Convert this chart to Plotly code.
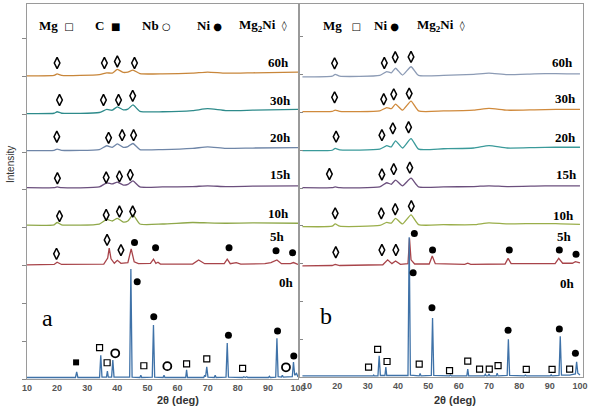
import plotly.graph_objects as go

W, H = 597, 409

# ---------------- data: panel a ----------------
A_MILL_X = [10, 19, 20, 21.5, 34, 36.5, 38.3, 40, 42, 43.5, 45.2, 47.5, 55, 65, 70, 76, 85, 100]
A60_Y = [8.02, 8.03, 8.07, 8.03, 8.05, 8.10, 8.09, 8.19, 8.11, 8.12, 8.17, 8.08, 8.07, 8.09, 8.12, 8.09, 8.10, 8.12]
A30_Y = [7.02, 7.03, 7.07, 7.03, 7.05, 7.13, 7.11, 7.20, 7.12, 7.14, 7.25, 7.08, 7.07, 7.10, 7.15, 7.10, 7.11, 7.13]
A20_Y = [6.04, 6.05, 6.08, 6.05, 6.07, 6.17, 6.13, 6.22, 6.13, 6.15, 6.23, 6.07, 6.07, 6.10, 6.14, 6.10, 6.11, 6.12]
A15_Y = [5.06, 5.06, 5.08, 5.06, 5.08, 5.19, 5.16, 5.21, 5.13, 5.15, 5.24, 5.08, 5.08, 5.09, 5.11, 5.09, 5.10, 5.11]
A10_Y = [4.07, 4.08, 4.14, 4.08, 4.10, 4.22, 4.18, 4.25, 4.15, 4.18, 4.34, 4.10, 4.10, 4.14, 4.13, 4.12, 4.13, 4.12]

A5_X = [10, 19, 20, 21.5, 35.5, 36.8, 37.3, 37.9, 39, 40, 41.2, 43.5, 44.6, 45.6, 47, 51, 52, 52.8, 53.5, 54.3,
        65, 67, 69, 72.5, 75.5, 76.5, 77.5, 79.5, 81, 89, 91, 93, 94.5, 97.5, 98.5, 100]
A5_Y = [3.02, 3.03, 3.09, 3.03, 3.04, 3.20, 3.46, 3.18, 3.06, 3.14, 3.06, 3.08, 3.44, 3.10, 3.05, 3.06, 3.17, 3.06, 3.09, 3.04,
        3.04, 3.15, 3.05, 3.06, 3.05, 3.17, 3.05, 3.08, 3.04, 3.05, 3.08, 3.15, 3.05, 3.05, 3.08, 3.03]

A0_X = [10, 26.1, 26.5, 26.9, 34.1, 34.5, 34.9, 36.4, 36.7, 37.0, 38.1, 38.5, 38.9, 44.1, 44.5, 44.9,
        47.5, 47.8, 48.1, 51.6, 52.0, 52.4, 55.2, 55.5, 55.8, 62.7, 63.0, 63.3, 68.7, 69.0, 69.3, 69.7, 70.1,
        72.2, 72.5, 72.8, 76.1, 76.5, 76.9, 81.7, 82.0, 82.5, 83.0, 83.3, 90.2, 90.5, 90.8, 92.6, 93.0, 93.4,
        94.5, 94.8, 95.1, 98.1, 98.5, 98.9, 99.5, 100]
A0_Y = [0.04, 0.04, 0.19, 0.04, 0.04, 0.63, 0.05, 0.05, 0.21, 0.05, 0.05, 0.50, 0.05, 0.05, 2.91, 0.05,
        0.04, 0.10, 0.04, 0.05, 1.43, 0.05, 0.04, 0.10, 0.04, 0.04, 0.24, 0.04, 0.04, 0.10, 0.06, 0.32, 0.05,
        0.04, 0.10, 0.04, 0.05, 0.95, 0.05, 0.04, 0.06, 0.04, 0.06, 0.04, 0.04, 0.07, 0.04, 0.05, 1.08, 0.06,
        0.05, 0.10, 0.05, 0.06, 0.45, 0.10, 0.15, 0.05]

# phase markers, panel a
A_MG2NI_X = [20.0, 35.7, 40.0, 45.7, 20.8, 35.4, 40.4, 45.1, 19.9, 37.1, 41.6, 45.4,
             20.1, 36.3, 40.7, 44.3, 20.8, 36.3, 40.7, 45.1, 19.8, 36.6, 41.2]
A_MG2NI_Y = [8.36, 8.36, 8.40, 8.36, 7.38, 7.38, 7.38, 7.49, 6.41, 6.38, 6.45, 6.45,
             5.31, 5.33, 5.36, 5.40, 4.31, 4.34, 4.43, 4.43, 3.31, 3.68, 3.41]
A_NI_X = [45.7, 52.7, 77.1, 92.7, 98.2, 46.6, 52.1, 76.9, 93.2, 98.6]
A_NI_Y = [3.61, 3.47, 3.47, 3.39, 3.34, 2.57, 1.65, 1.16, 1.27, 0.61]
A_MG_X = [34.1, 36.6, 48.8, 63.0, 69.7, 81.6]
A_MG_Y = [0.83, 0.43, 0.35, 0.40, 0.53, 0.28]
A_C_X = [26.3]
A_C_Y = [0.44]
A_NB_X = [39.3, 56.6, 96.0]
A_NB_Y = [0.68, 0.34, 0.31]

# ---------------- data: panel b ----------------
B_MILL_X = [8.5, 18.3, 19.3, 20.8, 34, 36.3, 37.8, 39.2, 41.5, 44.3, 46.8, 55, 65, 70, 76, 85, 92, 100]
B60_Y = [7.94, 7.96, 8.01, 7.96, 7.98, 8.08, 8.05, 8.17, 7.99, 8.21, 7.98, 7.98, 8.01, 8.04, 8.00, 8.02, 8.03, 8.02]
B30_Y = [7.02, 7.03, 7.06, 7.03, 7.04, 7.13, 7.10, 7.22, 7.06, 7.30, 7.04, 7.04, 7.06, 7.11, 7.06, 7.07, 7.08, 7.08]
B20_Y = [5.99, 6.00, 6.05, 6.01, 6.03, 6.12, 6.09, 6.25, 6.06, 6.31, 6.03, 6.04, 6.06, 6.12, 6.06, 6.07, 6.08, 6.08]
B15_Y = [5.01, 5.01, 5.03, 5.01, 5.03, 5.14, 5.10, 5.21, 5.06, 5.26, 5.03, 5.03, 5.04, 5.06, 5.04, 5.05, 5.06, 5.06]
B10_Y = [3.98, 3.99, 4.05, 3.99, 4.01, 4.09, 4.07, 4.20, 4.05, 4.29, 4.03, 4.03, 4.03, 4.08, 4.05, 4.06, 4.06, 4.04]

B5_X = [8.5, 18.3, 19.3, 20.8, 35, 36.6, 38, 39.2, 40.8, 43.3, 43.8, 44.3, 45.5, 50.3, 51.3, 52.3,
        62, 63, 64, 75.3, 76.3, 77.3, 91.8, 93, 94.3, 97.5, 98.5, 100]
B5_Y = [2.94, 2.95, 2.98, 2.95, 2.97, 3.10, 3.00, 3.07, 2.98, 3.00, 3.67, 3.10, 2.99, 2.99, 3.20, 3.00,
        2.98, 3.01, 2.98, 2.99, 3.14, 3.00, 3.00, 3.14, 3.01, 3.01, 3.05, 3.02]

B0_X = [8.5, 31.8, 32.0, 32.2, 33.4, 33.8, 34.2, 35.7, 36.0, 36.3, 43.3, 43.7, 44.1, 47.0, 47.3, 47.6,
        51.0, 51.4, 51.8, 57.0, 57.3, 57.6, 62.7, 63.0, 63.3, 68.5, 68.8, 69.1, 69.7, 70.0, 70.3,
        72.4, 72.7, 73.0, 76.0, 76.4, 76.8, 81.7, 82.0, 82.3, 90.2, 90.5, 90.8, 93.1, 93.5, 93.9,
        96.7, 97.0, 97.3, 98.5, 98.9, 99.3, 100]
B0_Y = [0.03, 0.03, 0.05, 0.03, 0.03, 0.56, 0.04, 0.04, 0.26, 0.04, 0.04, 3.70, 0.05, 0.03, 0.09, 0.03,
        0.04, 1.56, 0.04, 0.03, 0.05, 0.03, 0.03, 0.21, 0.03, 0.03, 0.07, 0.03, 0.03, 0.08, 0.03,
        0.03, 0.10, 0.03, 0.04, 1.00, 0.04, 0.03, 0.05, 0.03, 0.03, 0.06, 0.03, 0.04, 1.08, 0.05,
        0.05, 0.06, 0.06, 0.08, 0.40, 0.10, 0.05]

B_MG2NI_X = [19.1, 35.5, 39.1, 44.3, 19.1, 35.3, 38.6, 43.7, 19.6, 34.7, 38.3, 43.5,
             17.4, 34.7, 38.6, 43.9, 19.3, 34.5, 39.1, 44.4, 19.5, 34.7, 39.3]
B_MG2NI_Y = [8.30, 8.31, 8.46, 8.47, 7.40, 7.35, 7.48, 7.50, 6.36, 6.40, 6.58, 6.61,
             5.37, 5.36, 5.50, 5.54, 4.33, 4.33, 4.44, 4.52, 3.30, 3.36, 3.36]
B_NI_X = [45.4, 51.4, 76.7, 93.2, 98.7, 45.0, 51.2, 76.3, 93.2, 98.5]
B_NI_Y = [3.80, 3.36, 3.36, 3.36, 3.25, 2.76, 1.83, 1.24, 1.27, 0.63]
B_MG_X = [30.3, 33.3, 36.4, 47.0, 57.0, 63.0, 66.9, 70.1, 73.0, 82.3, 90.8, 96.6]
B_MG_Y = [0.26, 0.73, 0.41, 0.34, 0.17, 0.42, 0.21, 0.21, 0.30, 0.20, 0.20, 0.21]

TIME_LABELS = ["60h", "30h", "20h", "15h", "10h", "5h", "0h"]
X_TICKS = [10, 20, 30, 40, 50, 60, 70, 80, 90, 100]

A_COLORS = ["#c8863a", "#2e8b8b", "#6f86a8", "#6b4f7d", "#8fa84a", "#a8444a", "#3f72a8"]
B_COLORS = ["#8c9bb5", "#d08a3c", "#3a9a9a", "#6b4f7d", "#9aae4a", "#a8444a", "#3f72a8"]


def PX(x):
    return x / W


def PY(y):
    return 1 - y / H


fig = go.Figure()

a_curves = [(A_MILL_X, A60_Y), (A_MILL_X, A30_Y), (A_MILL_X, A20_Y), (A_MILL_X, A15_Y),
            (A_MILL_X, A10_Y), (A5_X, A5_Y), (A0_X, A0_Y)]
b_curves = [(B_MILL_X, B60_Y), (B_MILL_X, B30_Y), (B_MILL_X, B20_Y), (B_MILL_X, B15_Y),
            (B_MILL_X, B10_Y), (B5_X, B5_Y), (B0_X, B0_Y)]

for i, (xs, ys) in enumerate(a_curves):
    fig.add_trace(go.Scatter(x=xs, y=ys, mode="lines", xaxis="x", yaxis="y",
                             line=dict(color=A_COLORS[i], width=1.3,
                                       shape="spline" if i < 5 else "linear", smoothing=0.5),
                             hoverinfo="skip", showlegend=False))
for i, (xs, ys) in enumerate(b_curves):
    fig.add_trace(go.Scatter(x=xs, y=ys, mode="lines", xaxis="x2", yaxis="y2",
                             line=dict(color=B_COLORS[i], width=1.3,
                                       shape="spline" if i < 5 else "linear", smoothing=0.5),
                             hoverinfo="skip", showlegend=False))


def markers(xs, ys, ax, ay, symbol, size, lw=1.5):
    fig.add_trace(go.Scatter(x=xs, y=ys, mode="markers", xaxis=ax, yaxis=ay,
                             marker=dict(symbol=symbol, size=size, color="black",
                                         line=dict(color="black", width=lw)),
                             hoverinfo="skip", showlegend=False))


markers(A_MG2NI_X, A_MG2NI_Y, "x", "y", "diamond-tall-open", 8, 1.5)
markers(A_NI_X, A_NI_Y, "x", "y", "circle", 7, 0)
markers(A_MG_X, A_MG_Y, "x", "y", "square-open", 6, 1.2)
markers(A_C_X, A_C_Y, "x", "y", "square", 6, 0)
markers(A_NB_X, A_NB_Y, "x", "y", "circle-open", 8, 1.8)
markers(B_MG2NI_X, B_MG2NI_Y, "x2", "y2", "diamond-tall-open", 8, 1.5)
markers(B_NI_X, B_NI_Y, "x2", "y2", "circle", 7, 0)
markers(B_MG_X, B_MG_Y, "x2", "y2", "square-open", 6, 1.2)

ann = []
serif = "Liberation Serif"
SYM = "<span style='font-family:DejaVu Sans;font-size:10px'>%s</span>"

# legends (text rows)
a_leg = [("<b>Mg</b>&nbsp;&nbsp;" + SYM % "□", 37), ("<b>C</b>&nbsp;&nbsp;" + SYM % "■", 93),
         ("<b>Nb</b>&nbsp;" + SYM % "○", 140), ("<b>Ni</b>&nbsp;" + SYM % "●", 195),
         ("<b>Mg<sub>2</sub>Ni</b>&nbsp;&nbsp;" + SYM % "◊", 237)]
b_leg = [("<b>Mg</b>&nbsp;&nbsp;&nbsp;" + SYM % "□", 321), ("<b>Ni</b>&nbsp;" + SYM % "●", 372),
         ("<b>Mg<sub>2</sub>Ni</b>&nbsp;&nbsp;" + SYM % "◊", 415)]
for txt, tx in a_leg + b_leg:
    ann.append(dict(x=PX(tx), y=PY(25), xref="paper", yref="paper", text=txt, showarrow=False,
                    xanchor="left", yanchor="middle", font=dict(family=serif, size=13, color="black")))

a_lab_pos = [(278, 63), (280, 100), (280, 137), (280, 175), (278, 213), (277, 237), (286, 282)]
b_lab_pos = [(562, 63), (565, 99), (565, 137), (566, 175), (563, 215), (564, 237), (567, 283)]
for lab, (x, y) in zip(TIME_LABELS, a_lab_pos):
    ann.append(dict(x=PX(x), y=PY(y), xref="paper", yref="paper", text="<b>%s</b>" % lab,
                    showarrow=False, xanchor="center", yanchor="middle",
                    font=dict(family=serif, size=13, color="black")))
for lab, (x, y) in zip(TIME_LABELS, b_lab_pos):
    ann.append(dict(x=PX(x), y=PY(y), xref="paper", yref="paper", text="<b>%s</b>" % lab,
                    showarrow=False, xanchor="center", yanchor="middle",
                    font=dict(family=serif, size=13, color="black")))

ann.append(dict(x=PX(47), y=PY(318), xref="paper", yref="paper", text="a", showarrow=False,
                xanchor="center", yanchor="middle", font=dict(family=serif, size=24, color="black")))
ann.append(dict(x=PX(326), y=PY(316), xref="paper", yref="paper", text="b", showarrow=False,
                xanchor="center", yanchor="middle", font=dict(family=serif, size=24, color="black")))
ann.append(dict(x=PX(178), y=PY(399.5), xref="paper", yref="paper", text="<b>2θ (deg)</b>",
                showarrow=False, xanchor="center", yanchor="middle",
                font=dict(family="Liberation Sans", size=11, color="#333")))
ann.append(dict(x=PX(455), y=PY(399.5), xref="paper", yref="paper", text="<b>2θ (deg)</b>",
                showarrow=False, xanchor="center", yanchor="middle",
                font=dict(family="Liberation Sans", size=11, color="#333")))
ann.append(dict(x=PX(10), y=PY(165), xref="paper", yref="paper", text="Intensity", textangle=-90,
                showarrow=False, xanchor="center", yanchor="middle",
                font=dict(family="Liberation Sans", size=10, color="#333")))

axis_common = dict(showgrid=False, zeroline=False, showline=True, mirror=True,
                   linecolor="#9a9a9a", linewidth=1, automargin=False)
tick_font = dict(family="Liberation Sans", size=9, color="#555", weight="bold")

fig.update_layout(
    width=W, height=H, margin=dict(l=0, r=0, t=0, b=0, pad=0),
    paper_bgcolor="white", plot_bgcolor="white", showlegend=False,
    annotations=ann,
    xaxis=dict(domain=[PX(27), PX(298)], range=[10, 100], tickvals=X_TICKS, ticks="",
               tickfont=tick_font, anchor="y", **axis_common),
    yaxis=dict(domain=[PY(379), PY(4)], range=[0, 9.92], dtick=1, ticks="outside", ticklen=4,
               tickcolor="#888", showticklabels=False, anchor="x", **axis_common),
    xaxis2=dict(domain=[PX(300), PX(583)], range=[7.7, 101], tickvals=X_TICKS, ticks="",
                tickfont=tick_font, anchor="y2", **axis_common),
    yaxis2=dict(domain=[PY(377), PY(4)], range=[0, 9.87], dtick=1, ticks="inside", ticklen=3,
                tickcolor="#888", showticklabels=False, anchor="x2", **axis_common),
)

fig.write_html("out.html", config={"displayModeBar": False, "staticPlot": True},
               post_script="document.body.style.margin='0px';document.body.style.overflow='hidden';")
